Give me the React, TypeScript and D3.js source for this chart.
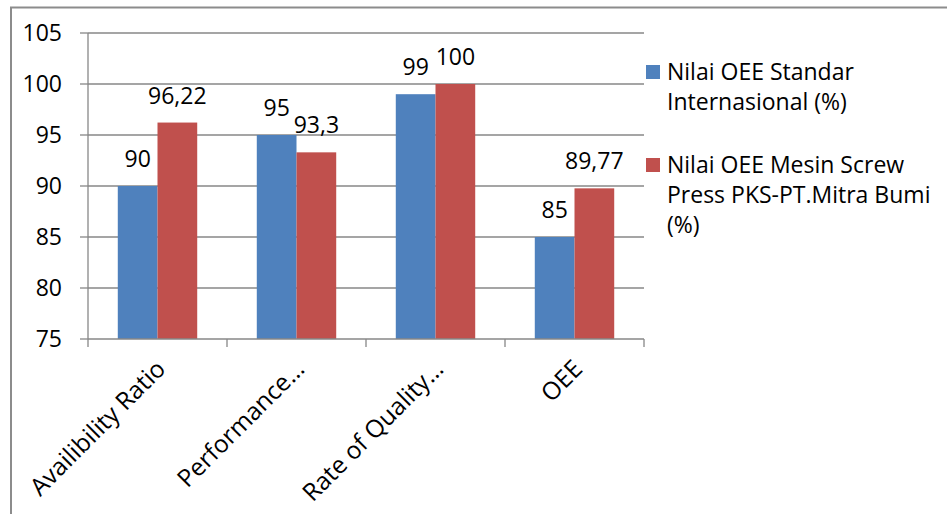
import React from "react";
import * as d3 from "d3";

const categories = ["Availibility Ratio", "Performance…", "Rate of Quality…", "OEE"];
const seriesNames = ["Nilai OEE Standar Internasional (%)", "Nilai OEE Mesin Screw Press PKS-PT.Mitra Bumi (%)"];
const standarValues = [90, 95, 99, 85];
const mesinValues = [96.22, 93.3, 100, 89.77];
const valueLabels = [
  ["90", "95", "99", "85"],
  ["96,22", "93,3", "100", "89,77"],
];
const yTicks = [75, 80, 85, 90, 95, 100, 105];
const legendLines = [
  ["Nilai OEE Standar", "Internasional (%)"],
  ["Nilai OEE Mesin Screw", "Press PKS-PT.Mitra Bumi", "(%)"],
];
const colors = ["#4F81BD", "#C0504D"];

const W = 947;
const H = 514;
const FONT = "'Open Sans', 'Noto Sans', sans-serif";

export default function App() {
  const left = 88, right = 644, top = 33, bottom = 339;
  const y = d3.scaleLinear().domain([75, 105]).range([bottom, top]);
  const x0 = d3.scaleBand<string>().domain(categories).range([left, right]).padding(0);
  const x1 = d3.scaleBand<number>().domain([0, 1]).range([0, x0.bandwidth()]).paddingInner(0).paddingOuter(0.75);
  const series = [standarValues, mesinValues];
  const grid = "#878787";

  return (
    <svg width={W} height={H} style={{ position: "absolute", left: 0, top: 0, display: "block" }} fontFamily={FONT}>
      <rect x={0} y={0} width={W} height={H} fill="#fff" />
      <rect x={11} y={7.5} width={1000} height={600} fill="none" stroke="#8c8c8c" strokeWidth={2} />
      {/* gridlines */}
      {yTicks.map((t) => (
        <g key={t}>
          {t !== 75 && <line x1={left} x2={right} y1={y(t)} y2={y(t)} stroke={grid} strokeWidth={1.3} />}
          <line x1={left - 8} x2={left} y1={y(t)} y2={y(t)} stroke={grid} strokeWidth={1.3} />
          <text x={62} y={y(t)} dy="0.36em" textAnchor="end" fontSize={23} fill="#000">{t}</text>
        </g>
      ))}
      {/* bars */}
      {series.map((vals, si) =>
        vals.map((v, ci) => {
          const bx = (x0(categories[ci]) as number) + (x1(si) as number);
          const bw = x1.bandwidth();
          return (
            <g key={`${si}-${ci}`}>
              <rect x={bx} y={y(v)} width={bw} height={bottom - y(v)} fill={colors[si]} />
              <text x={bx + bw / 2} y={y(v) - 19} textAnchor="middle" fontSize={23} fill="#000">
                {valueLabels[si][ci]}
              </text>
            </g>
          );
        })
      )}
      {/* axes */}
      <line x1={left} x2={left} y1={top} y2={bottom} stroke={grid} strokeWidth={1.3} />
      <line x1={left} x2={right} y1={bottom} y2={bottom} stroke={grid} strokeWidth={1.3} />
      {[...categories.map((c) => x0(c) as number), right].map((tx, i) => (
        <line key={i} x1={tx} x2={tx} y1={bottom} y2={bottom + 8} stroke={grid} strokeWidth={1.3} />
      ))}
      {categories.map((c) => {
        const cx = (x0(c) as number) + x0.bandwidth() / 2;
        return (
          <text key={c} transform={`translate(${cx - 3},${358}) rotate(-45)`} textAnchor="end" dy="0.72em" fontSize={24.5} fill="#000">
            {c}
          </text>
        );
      })}
      {/* legend */}
      {legendLines.map((lines, li) => {
        const baseY = li === 0 ? 80 : 173;
        return (
          <g key={li}>
            <rect x={646} y={baseY - 15} width={14} height={14} fill={colors[li]} />
            {lines.map((ln, k) => (
              <text key={k} x={667} y={baseY + k * 30} fontSize={23} fill="#000">{ln}</text>
            ))}
          </g>
        );
      })}
      <title>{seriesNames.join(" / ")}</title>
    </svg>
  );
}
